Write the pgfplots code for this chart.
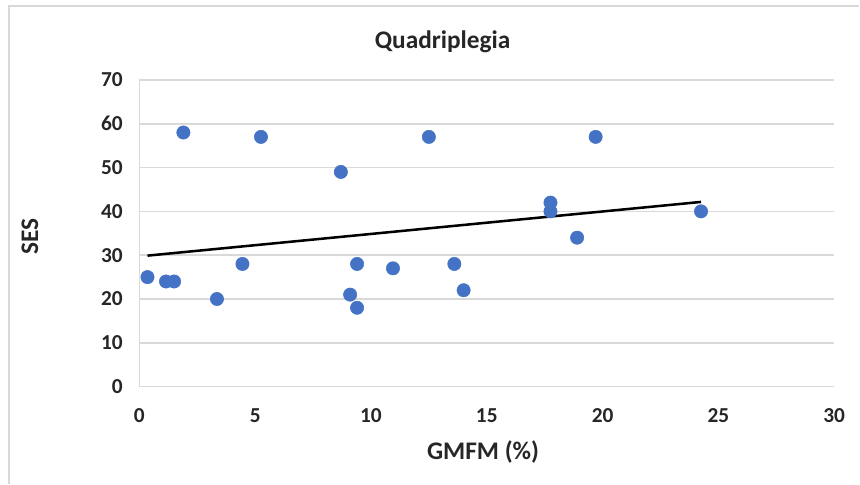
\documentclass[border=0pt]{standalone}
\usepackage{fontspec}
\setmainfont{Carlito}
\usepackage{pgfplots}
\usepackage{pgfplotstable}
\pgfplotsset{compat=1.18}
\definecolor{dotblue}{HTML}{4472C4}
\definecolor{gridgray}{HTML}{D9D9D9}
\definecolor{txt}{HTML}{262626}

\pgfplotstableread{
x y
0.35 25
1.15 24
1.5 24
1.9 58
3.35 20
4.45 28
5.25 57
8.7 49
9.1 21
9.4 28
9.4 18
10.95 27
12.5 57
13.6 28
14.0 22
17.75 42
17.75 40
18.9 34
19.7 57
24.25 40
}\sesdata

\begin{document}
\begin{tikzpicture}
\begin{axis}[
  scale only axis,
  width=521.6pt, height=230.25pt,
  xmin=0, xmax=30, ymin=0, ymax=70,
  xtick={0,5,...,30}, ytick={0,10,...,70},
  axis x line=bottom, axis y line=left,
  axis line style={gridgray, line width=1.2pt, -},
  ymajorgrids, grid style={gridgray, line width=1.2pt},
  major tick length=0pt,
  tick label style={font=\fontsize{16}{19}\selectfont\bfseries, text=txt},
  /pgf/number format/assume math mode=true,
  xticklabel style={yshift=-13pt},
  yticklabel style={xshift=-9pt},
  title={Quadriplegia},
  title style={at={(rel axis cs:0.4364,1.128)}, anchor=center, yshift=-7pt, font=\fontsize{19}{22}\selectfont\bfseries, text=txt},
  xlabel={GMFM (\%)},
  xlabel style={at={(rel axis cs:0.4946,-0.2117)}, anchor=center, font=\fontsize{19}{22}\selectfont\bfseries, text=txt},
  ylabel={SES},
  ylabel style={at={(rel axis cs:-0.1574,0.4886)}, anchor=center, font=\fontsize{19}{22}\selectfont\bfseries, text=txt},
  clip=false,
]
\addplot[only marks, mark=*, mark size=5pt, mark options={fill=dotblue, draw=dotblue}] table[x=x, y=y] {\sesdata};
\addplot[black, line width=1.9pt] table[x=x, y={create col/linear regression={y=y}}] {\sesdata};
\end{axis}
\draw[gridgray, line width=1.2pt] (-97.9pt,-72.75pt) -- (-97.9pt,285.75pt) -- (540.375pt,285.75pt);
\path[use as bounding box] (-104.625pt,-72.75pt) rectangle (540.375pt,290.25pt);
\end{tikzpicture}
\end{document}
